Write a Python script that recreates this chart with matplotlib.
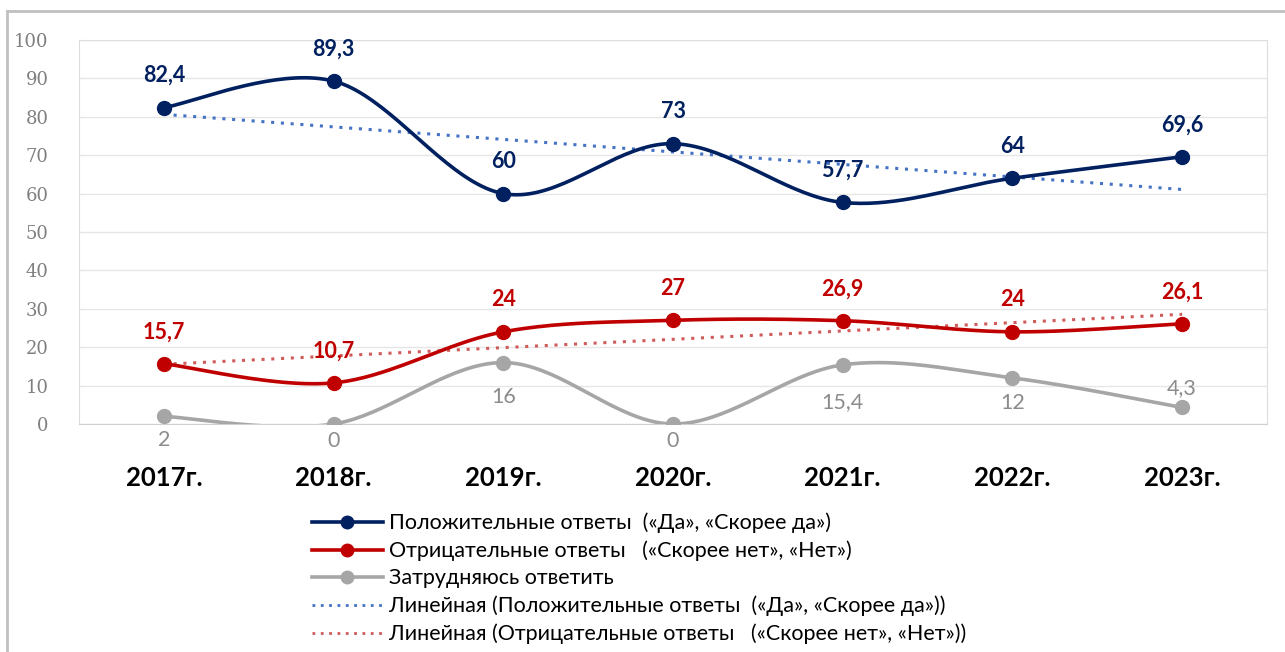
import numpy as np
import matplotlib
matplotlib.use("Agg")
import matplotlib.pyplot as plt
from matplotlib.lines import Line2D

years = ["2017г.", "2018г.", "2019г.", "2020г.", "2021г.", "2022г.", "2023г."]
positive = [82.4, 89.3, 60, 73, 57.7, 64, 69.6]
negative = [15.7, 10.7, 24, 27, 26.9, 24, 26.1]
unsure = [2, 0, 16, 0, 15.4, 12, 4.3]

pos_lbl = ["82,4", "89,3", "60", "73", "57,7", "64", "69,6"]
neg_lbl = ["15,7", "10,7", "24", "27", "26,9", "24", "26,1"]
uns_lbl = ["2", "0", "16", "0", "15,4", "12", "4,3"]
# gray labels sit below the point except the last one
uns_off = [-17, -12, -25, -12, -27, -18, 14]

names = ["Положительные ответы  («Да», «Скорее да»)",
         "Отрицательные ответы   («Скорее нет», «Нет»)",
         "Затрудняюсь ответить",
         "Линейная (Положительные ответы  («Да», «Скорее да»))",
         "Линейная (Отрицательные ответы   («Скорее нет», «Нет»))"]

BLUE, RED, GRAY = "#002060", "#C00000", "#A6A6A6"
TBLUE, TRED = "#4472C4", "#D05A5A"
FONT = "Lato"


def smooth(y, n=40):
    # Excel-like smoothed line: cubic bezier with catmull-rom control points
    y = np.asarray(y, float)
    x = np.arange(len(y), dtype=float)
    P = np.column_stack([x, y])
    out = []
    for i in range(len(P) - 1):
        p0 = P[i - 1] if i > 0 else P[i]
        p1, p2 = P[i], P[i + 1]
        p3 = P[i + 2] if i + 2 < len(P) else P[i + 1]
        c1 = p1 + (p2 - p0) / 6
        c2 = p2 - (p3 - p1) / 6
        t = np.linspace(0, 1, n)[:, None]
        seg = ((1 - t) ** 3 * p1 + 3 * (1 - t) ** 2 * t * c1
               + 3 * (1 - t) * t ** 2 * c2 + t ** 3 * p2)
        out.append(seg if i == 0 else seg[1:])
    s = np.vstack(out)
    return s[:, 0], s[:, 1]


fig = plt.figure(figsize=(12.85, 6.52), dpi=100)
ax = fig.add_axes([79 / 1285, 1 - 424 / 652, (1267 - 79) / 1285, (424 - 40) / 652])

x = np.arange(len(years))
for vals, col in [(positive, BLUE), (negative, RED), (unsure, GRAY)]:
    sx, sy = smooth(vals)
    ax.plot(sx, sy, color=col, lw=2.6, solid_capstyle="round", zorder=3)
    ax.plot(x, vals, "o", color=col, ms=10, zorder=4)

# linear trendlines
for vals, col in [(positive, TBLUE), (negative, TRED)]:
    k, b = np.polyfit(x, vals, 1)
    ax.plot(x, k * x + b, color=col, lw=2.2, ls=(0, (1, 2.2)), zorder=2)

for xi, v, s in zip(x, positive, pos_lbl):
    ax.annotate(s, (xi, v), xytext=(0, 23), textcoords="offset points",
                ha="center", va="center", color=BLUE, fontsize=15.5,
                fontweight="bold", family=FONT, zorder=5)
for xi, v, s in zip(x, negative, neg_lbl):
    ax.annotate(s, (xi, v), xytext=(0, 23), textcoords="offset points",
                ha="center", va="center", color=RED, fontsize=15.5,
                fontweight="bold", family=FONT, zorder=5)
for xi, v, s, o in zip(x, unsure, uns_lbl, uns_off):
    ax.annotate(s, (xi, v), xytext=(0, o), textcoords="offset points",
                ha="center", va="center", color="#8C8C8C", fontsize=15.5,
                family=FONT, annotation_clip=False, zorder=5)

ax.set_xlim(-0.5, len(years) - 0.5)
ax.set_ylim(0, 100)
ax.set_yticks(range(0, 101, 10))
ax.set_xticks(x)
ax.set_xticklabels(years, fontsize=18.5, fontweight="bold", family=FONT)
ax.tick_params(axis="x", length=0, pad=30)
ax.tick_params(axis="y", length=0, pad=22, labelsize=13, labelcolor="#7F7F7F")
for t in ax.get_yticklabels():
    t.set_family("DejaVu Serif")
ax.grid(axis="y", color="#E6E6E6", lw=1)
ax.set_axisbelow(True)
for sp in ax.spines.values():
    sp.set_color("#DDDDDD")
ax.spines["bottom"].set_color("#D0D0D0")

handles = [Line2D([], [], color=BLUE, lw=2.6, marker="o", ms=9),
           Line2D([], [], color=RED, lw=2.6, marker="o", ms=9),
           Line2D([], [], color=GRAY, lw=2.6, marker="o", ms=9),
           Line2D([], [], color=TBLUE, lw=2, ls=(0, (1, 2))),
           Line2D([], [], color=TRED, lw=2, ls=(0, (1, 2)))]
fig.legend(handles, names, loc="upper left", bbox_to_anchor=(303 / 1285, 1 - 504 / 652),
           frameon=False, prop={"family": FONT, "size": 15.5}, handlelength=3.3,
           handletextpad=0.3, labelspacing=0.34, borderaxespad=0)

# outer chart border (left and top visible)
fig.add_artist(Line2D([7 / 1285, 7 / 1285], [0, 1 - 11 / 652], color="#C0C0C0", lw=2,
                      transform=fig.transFigure))
fig.add_artist(Line2D([7 / 1285, 1], [1 - 11 / 652, 1 - 11 / 652], color="#C0C0C0", lw=2,
                      transform=fig.transFigure))

fig.savefig("out.png", dpi=100)
